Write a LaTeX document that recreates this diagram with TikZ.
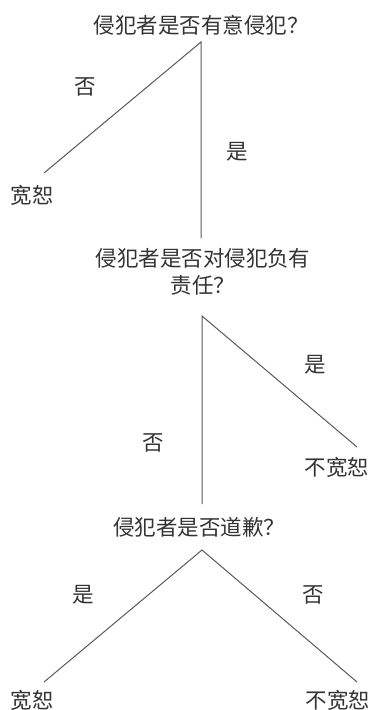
\documentclass[tikz,border=0pt]{standalone}
\usepackage{fontspec}
\newfontfamily\cjk{Noto Sans CJK SC}
\begin{document}
\begin{tikzpicture}[x=1pt,y=-1pt,
  lbl/.style={font=\cjk\fontsize{21.5}{27}\selectfont, text=black!80, inner sep=0pt, align=center},
  branch/.style={draw=black!65, line width=1pt}]
\useasboundingbox (0,0) rectangle (372,710);
% questions
\node[lbl] (q1) at (201,25) {侵犯者是否有意侵犯？};
\node[lbl] (q2) at (203,271.5) {侵犯者是否对侵犯负有\\责任？};
\node[lbl] (q3) at (199,527) {侵犯者是否道歉？};
% apexes and ends
\coordinate (a1) at (201,42);
\coordinate (l1) at (44,173);
\coordinate (v1) at (201,238);
\coordinate (a2) at (202,316);
\coordinate (r2) at (357,447);
\coordinate (v2) at (202,504);
\coordinate (a3) at (202,550);
\coordinate (l3) at (44,682);
\coordinate (r3) at (357,682);
% outcomes
\node[lbl] (o1) at (32,195) {宽恕};
\node[lbl] (o2) at (337,467) {不宽恕};
\node[lbl] (o3) at (32,700) {宽恕};
\node[lbl] (o4) at (338,700) {不宽恕};
% branch labels
\node[lbl] (b1) at (85,87) {否};
\node[lbl] (b2) at (237,152) {是};
\node[lbl] (b3) at (315,365) {是};
\node[lbl] (b4) at (153,443) {否};
\node[lbl] (b5) at (83,595) {是};
\node[lbl] (b6) at (313,595) {否};
% branches
\draw[branch] (l1) -- (a1) -- (v1);
\draw[branch] (v2) -- (a2) -- (r2);
\draw[branch] (l3) -- (a3) -- (r3);
\end{tikzpicture}
\end{document}
